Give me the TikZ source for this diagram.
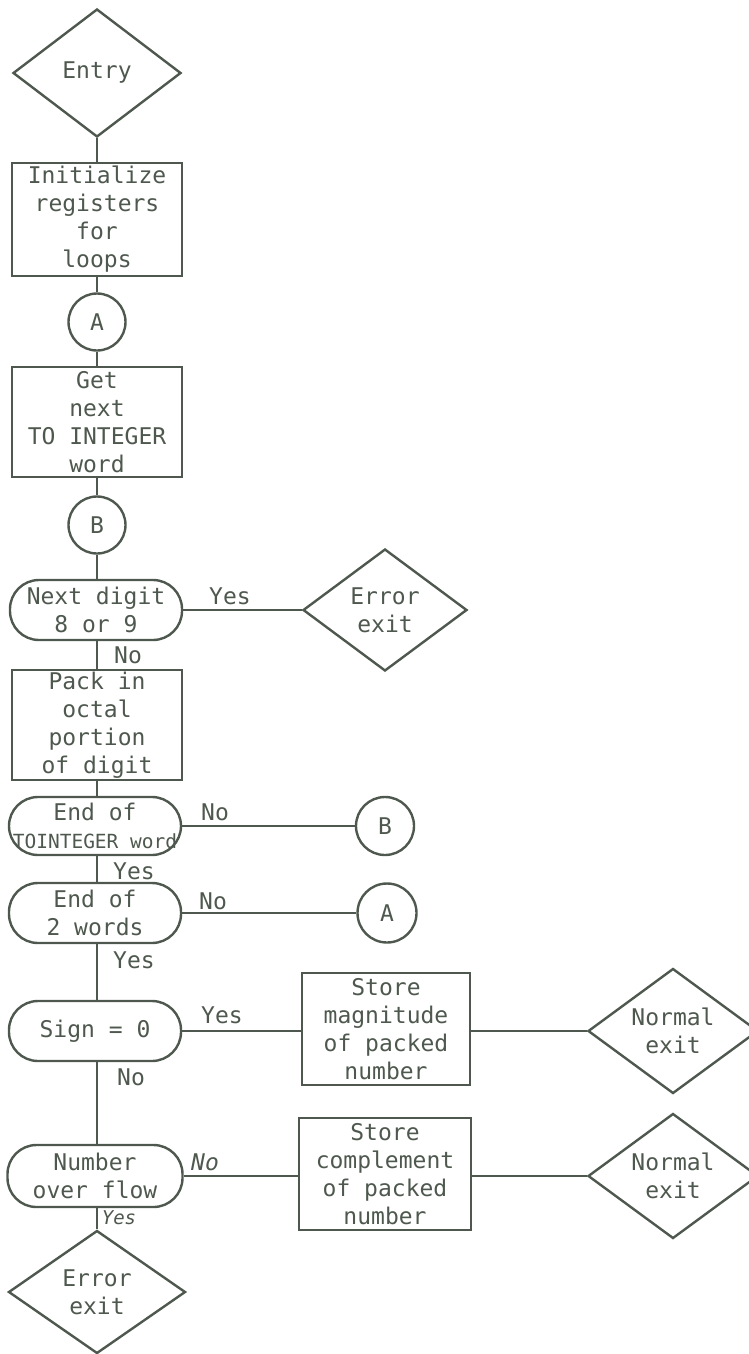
\documentclass[tikz,border=0pt]{standalone}
\usepackage{fontspec}
\setmonofont{DejaVu Sans Mono}
\usetikzlibrary{shapes.geometric}
\definecolor{ink}{RGB}{78,88,78}
\begin{document}
\begin{tikzpicture}[x=1pt,y=-1pt,
  every node/.style={font=\ttfamily\fontsize{23}{28}\selectfont, text=ink, align=center},
  line/.style={draw=ink, line width=2.4pt},
  proc/.style={line, rectangle, inner sep=0pt, minimum width=170pt, minimum height=111pt},
  term/.style={line, rectangle, rounded corners=29pt, inner sep=0pt, minimum width=172pt, minimum height=60pt},
  dec/.style={line, diamond, aspect=1.35, inner sep=0pt, minimum width=168pt, minimum height=125pt},
  conn/.style={line, circle, inner sep=0pt, minimum size=57pt},
  lbl/.style={inner sep=0pt}]
\useasboundingbox (0,0) rectangle (748,1354);

% main column
\node[dec, minimum height=128pt] (entry) at (97,73) {Entry};
\node[proc, minimum height=113pt] (init) at (97,219.5) {Initialize\\registers\\for\\loops};
\node[conn] (A1) at (97,322) {A};
\node[proc, minimum height=110pt] (get) at (97,422) {Get\\next\\TO INTEGER\\word};
\node[conn] (B1) at (97,525) {B};
\node[term] (nextd) at (96,610) {Next digit\\8 or 9};
\node[dec, minimum width=164pt, minimum height=122pt] (err1) at (385,610) {Error\\exit};
\node[proc, minimum height=110pt] (pack) at (97,725) {Pack in\\octal\\portion\\of digit};
\node[term, minimum height=58pt] (endtoi) at (95,826) {End of\\{\fontsize{19.5}{28}\selectfont TOINTEGER word}};
\node[conn, minimum size=58pt] (B2) at (385,826) {B};
\node[term] (end2) at (95,913) {End of\\2 words};
\node[conn, minimum size=59pt] (A2) at (387,913) {A};
\node[term] (sign) at (95,1031) {Sign = 0};
\node[proc, minimum width=168pt, minimum height=112pt] (storemag) at (386,1029) {Store\\magnitude\\of packed\\number};
\node[dec, minimum width=170pt] (norm1) at (673,1031) {Normal\\exit};
\node[term, minimum width=175pt, minimum height=62pt] (numov) at (95,1176) {Number\\over flow};
\node[proc, minimum width=172pt, minimum height=112pt] (storecomp) at (385,1174) {Store\\complement\\of packed\\number};
\node[dec, minimum width=170pt] (norm2) at (673,1176) {Normal\\exit};
\node[dec, minimum width=177pt, minimum height=123pt] (err2) at (97,1292) {Error\\exit};

% connectors
\draw[line] (entry) -- (init);
\draw[line] (init) -- (A1);
\draw[line] (A1) -- (get);
\draw[line] (get) -- (B1);
\draw[line] (B1) -- (B1 |- nextd.north);
\draw[line] (nextd.east) -- (err1);
\draw[line] (pack |- nextd.south) -- (pack);
\draw[line] (pack) -- (pack |- endtoi.north);
\draw[line] (endtoi.east) -- (B2);
\draw[line] (pack |- endtoi.south) -- (pack |- end2.north);
\draw[line] (end2.east) -- (A2);
\draw[line] (pack |- end2.south) -- (pack |- sign.north);
\draw[line] (sign.east) -- (sign.east -| storemag.west);
\draw[line] (storemag.east |- norm1) -- (norm1);
\draw[line] (pack |- sign.south) -- (pack |- numov.north);
\draw[line] (numov.east) -- (numov.east -| storecomp.west);
\draw[line] (storecomp.east |- norm2) -- (norm2);
\draw[line] (err2 |- numov.south) -- (err2);

% branch labels
\node[lbl] (l1) at (230,596) {Yes};
\node[lbl] (l2) at (128,655) {No};
\node[lbl] (l3) at (215,812) {No};
\node[lbl] (l4) at (134,871) {Yes};
\node[lbl] (l5) at (213,901) {No};
\node[lbl] (l6) at (134,960) {Yes};
\node[lbl] (l7) at (222,1015) {Yes};
\node[lbl] (l8) at (131,1077) {No};
\node[lbl, font=\ttfamily\itshape\fontsize{23}{26}\selectfont] (l9) at (205,1162) {No};
\node[lbl, font=\ttfamily\itshape\fontsize{19}{22}\selectfont] (l10) at (119,1218) {Yes};
\end{tikzpicture}
\end{document}
